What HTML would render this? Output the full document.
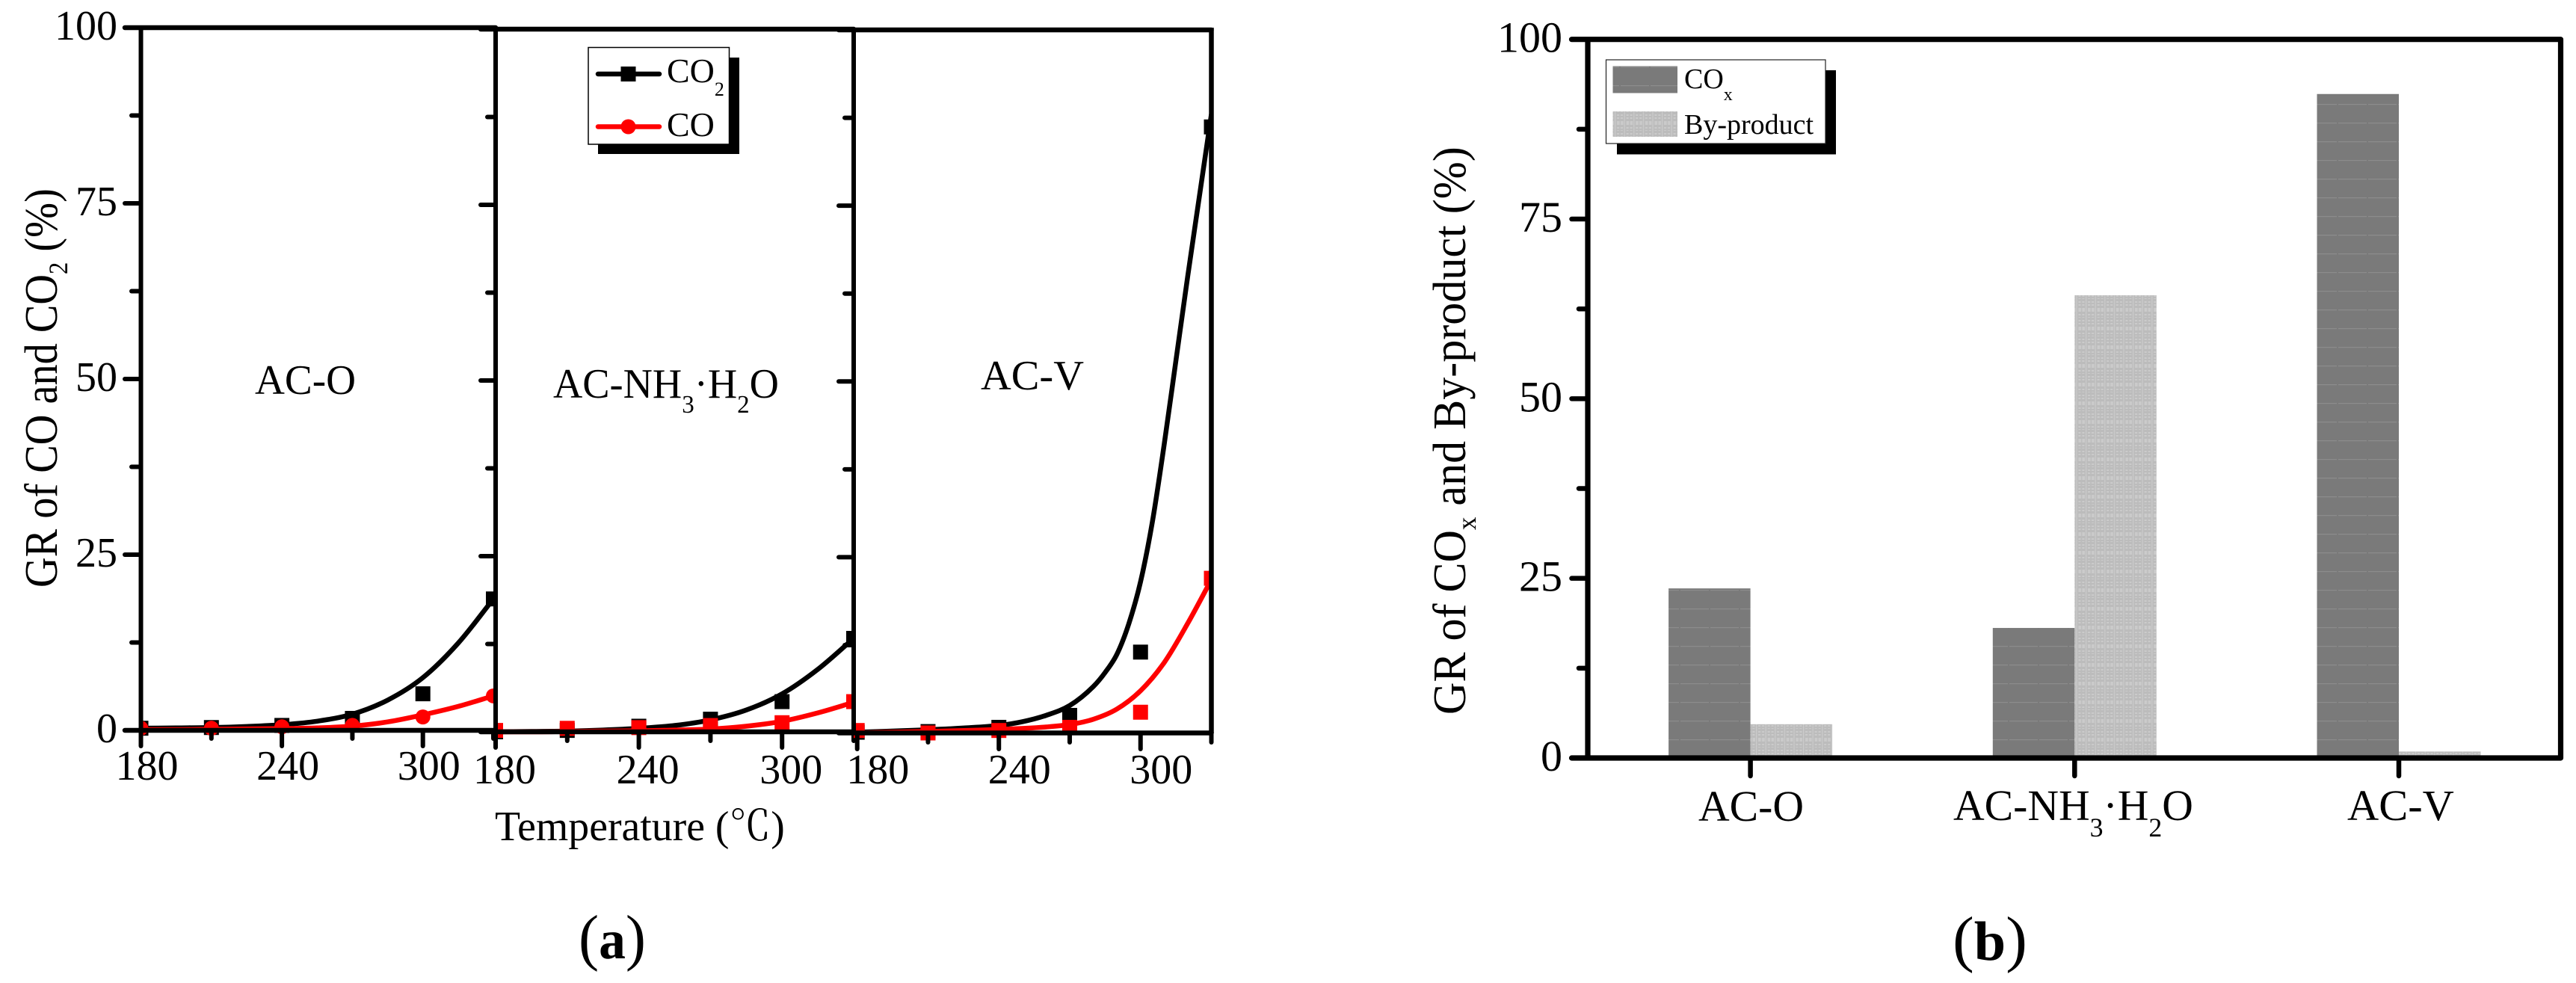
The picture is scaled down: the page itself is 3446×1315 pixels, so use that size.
<!DOCTYPE html>
<html lang="en">
<head>
<meta charset="utf-8">
<title>GR of CO and CO2 by temperature and GR of COx and By-product</title>
<style>
html,body{margin:0;padding:0;background:#fff;}
svg{display:block;}
text{font-family:"Liberation Serif","Noto Serif CJK SC",serif;fill:#000;}
</style>
</head>
<body>
<svg id="figure" xmlns="http://www.w3.org/2000/svg" width="3446" height="1315" viewBox="0 0 3446 1315">
  <defs>
    <pattern id="dark-fill" patternUnits="userSpaceOnUse" x="3127" y="14" width="40" height="25">
      <rect width="40" height="25" fill="#7a7a7a"/>
      <rect x="1" y="0" width="38" height="1.2" fill="#8c8c8c"/>
    </pattern>
    <pattern id="light-fill" patternUnits="userSpaceOnUse" x="2790" y="0" width="12.6" height="25">
      <rect width="12.6" height="25" fill="#bcbcbc"/>
      <rect x="0" width="1.2" height="25" fill="#cbcbcb"/>
      <rect x="3" y="12" width="3.6" height="5" fill="#cbcbcb"/>
      <rect x="8" y="12" width="3.6" height="5" fill="#cbcbcb"/>
      <rect x="3" y="20" width="3" height="2" fill="#cbcbcb"/>
      <rect x="8" y="20" width="3" height="2" fill="#cbcbcb"/>
      <rect x="3" y="24" width="3" height="1" fill="#cbcbcb"/>
      <rect x="8" y="24" width="3" height="1" fill="#cbcbcb"/>
      <rect x="3" y="3" width="3" height="2" fill="#cbcbcb"/>
      <rect x="8" y="3" width="3" height="2" fill="#cbcbcb"/>
      <rect x="3" y="7" width="3" height="2" fill="#cbcbcb"/>
      <rect x="8" y="7" width="3" height="2" fill="#cbcbcb"/>
    </pattern>
    <clipPath id="clip-0"><rect x="188.5" y="0" width="474.5" height="1100"/></clipPath>
    <clipPath id="clip-1"><rect x="663" y="0" width="479" height="1100"/></clipPath>
    <clipPath id="clip-2"><rect x="1142" y="0" width="478.5" height="1100"/></clipPath>
  </defs>

  <g id="chart-a"></g>
  <g id="chart-b"></g>

  <!-- Chart (a) static text -->
  <text font-size="62" data-fit="534" data-x="76" data-y="786" data-rot="-90">GR of CO and CO<tspan font-size="36" dy="14">2</tspan><tspan dy="-14"> (%)</tspan></text>
  <text font-size="56" data-fit="388" data-x="662" data-y="1124">Temperature (℃)</text>
  <text font-size="56" data-fit="135" data-x="341" data-y="527">AC-O</text>
  <text font-size="56" data-fit="302" data-x="740" data-y="532">AC-NH<tspan font-size="34" dy="20">3</tspan><tspan dy="-20">·H</tspan><tspan font-size="34" dy="20">2</tspan><tspan dy="-20">O</tspan></text>
  <text font-size="56" data-fit="138" data-x="1312" data-y="521">AC-V</text>
  <text font-size="84" data-fit="90" data-x="774" data-y="1282">(<tspan font-weight="bold" font-size="74">a</tspan>)</text>

  <!-- Chart (a) legend -->
  <g>
    <rect x="800" y="77" width="189" height="129" fill="#000"/>
    <rect x="787" y="63.5" width="188.5" height="129.5" fill="#fff" stroke="#000" stroke-width="1.5"/>
    <g>
      <line x1="800" y1="99" x2="882" y2="99" stroke="#000" stroke-width="6.5" stroke-linecap="round"/>
      <rect x="830.5" y="89" width="20" height="20" fill="#000"/>
      <text font-size="46" x="892" y="110">CO<tspan font-size="26" dy="18">2</tspan></text>
    </g>
    <g>
      <line x1="800" y1="169.5" x2="882" y2="169.5" stroke="#f00" stroke-width="6.5" stroke-linecap="round"/>
      <circle cx="840.5" cy="169.5" r="10" fill="#f00"/>
      <text font-size="46" x="892" y="182">CO</text>
    </g>
  </g>

  <!-- Chart (b) static text -->
  <text font-size="62" data-fit="760" data-x="1960" data-y="956" data-rot="-90">GR of CO<tspan font-size="36" dy="14">x</tspan><tspan dy="-14"> and By-product (%)</tspan></text>
  <text font-size="84" data-fit="100" data-x="2612" data-y="1284">(<tspan font-weight="bold" font-size="74">b</tspan>)</text>

  <!-- Chart (b) legend -->
  <g>
    <rect x="2163" y="94" width="293" height="112.5" fill="#000"/>
    <rect x="2148.5" y="80" width="293.5" height="112" fill="#fff" stroke="#222" stroke-width="1.2"/>
    <g>
      <rect x="2157.5" y="88.5" width="86.5" height="36" fill="url(#dark-fill)"/>
      <text font-size="38" x="2253" y="118">CO<tspan font-size="24" dy="16">x</tspan></text>
    </g>
    <g>
      <rect x="2157.5" y="149" width="86.5" height="34" fill="url(#light-fill)"/>
      <text font-size="38" x="2253" y="179">By-product</text>
    </g>
  </g>
</svg>

<script>
// ---- Chart (a) data ----
const tempCategories = [180, 210, 240, 270, 300, 330];
const tempMinorTicks = [210, 270, 330];
const tempTickLabels = [180, 240, 300];
const percentTicksMajor = [0, 25, 50, 75, 100];
const percentTicksMinor = [12.5, 37.5, 62.5, 87.5];

const acoCo2Points = [0.3, 0.4, 0.7, 1.7, 5.2, 18.7];
const acoCoPoints = [0.3, 0.3, 0.5, 0.7, 1.9, 4.9];
const acnCo2Points = [0.0, 0.2, 0.8, 1.8, 4.3, 13.3];
const acnCoPoints = [0.2, 0.5, 0.6, 0.9, 1.3, 4.3];
const acvCo2Points = [0.1, 0.2, 0.8, 2.5, 11.5, 86.2];
const acvCoPoints = [0.35, 0.0, 0.35, 0.8, 2.95, 22.0];

const acoCo2CurveT = [180, 195, 210, 225, 240, 255, 270, 285, 300, 315, 330];
const acoCo2CurveV = [0.3, 0.35, 0.4, 0.55, 0.8, 1.3, 2.3, 4.3, 7.5, 12.4, 18.7];
const acoCoCurveT = [180, 195, 210, 225, 240, 255, 270, 285, 300, 315, 330];
const acoCoCurveV = [0.1, 0.1, 0.15, 0.2, 0.25, 0.35, 0.6, 1.2, 2.2, 3.4, 4.9];
const acnCo2CurveT = [180, 195, 210, 225, 240, 255, 270, 285, 300, 315, 330];
const acnCo2CurveV = [0.0, 0.05, 0.1, 0.25, 0.5, 0.9, 1.7, 3.1, 5.4, 8.9, 13.3];
const acnCoCurveT = [180, 195, 210, 225, 240, 255, 270, 285, 300, 315, 330];
const acnCoCurveV = [0.0, 0.0, 0.05, 0.1, 0.15, 0.25, 0.4, 0.8, 1.5, 2.7, 4.2];
const acvCo2CurveT = [180, 210, 225, 240, 250, 260, 270, 280, 285, 290, 295, 300, 305, 310, 315, 320, 325, 330];
const acvCo2CurveV = [0.1, 0.45, 0.7, 1.06, 1.6, 2.5, 3.9, 6.6, 8.6, 11.2, 15.5, 21.5, 30.0, 41.0, 53.0, 65.0, 76.5, 88.0];
const acvCoCurveT = [180, 240, 260, 270, 280, 290, 300, 310, 320, 330];
const acvCoCurveV = [0.0, 0.5, 0.85, 1.2, 1.95, 3.4, 6.0, 10.0, 15.6, 21.8];

// ---- Chart (b) data ----
const barCategories = ['AC-O', 'AC-NH3H2O', 'AC-V'];
const coxValues = [23.6, 18.1, 92.4];
const byProductValues = [4.7, 64.4, 0.9];
const barTicksMajor = [0, 25, 50, 75, 100];
const barTicksMinor = [12.5, 37.5, 62.5, 87.5];

const NS = 'http://www.w3.org/2000/svg';
function mk(parent, tag, attrs) {
  const el = document.createElementNS(NS, tag);
  for (const k in attrs) el.setAttribute(k, attrs[k]);
  parent.appendChild(el);
  return el;
}
function monotonePath(xs, ys) {
  const n = xs.length, d = [], m = [];
  for (let i = 0; i < n - 1; i++) d.push((ys[i + 1] - ys[i]) / (xs[i + 1] - xs[i]));
  m[0] = d[0]; m[n - 1] = d[n - 2];
  for (let i = 1; i < n - 1; i++) {
    m[i] = d[i - 1] * d[i] <= 0 ? 0 : (d[i - 1] + d[i]) / 2;
  }
  let p = 'M' + xs[0].toFixed(2) + ' ' + ys[0].toFixed(2);
  for (let i = 0; i < n - 1; i++) {
    const h = (xs[i + 1] - xs[i]) / 3;
    p += 'C' + (xs[i] + h).toFixed(2) + ' ' + (ys[i] + m[i] * h).toFixed(2) + ' ' +
      (xs[i + 1] - h).toFixed(2) + ' ' + (ys[i + 1] - m[i + 1] * h).toFixed(2) + ' ' +
      xs[i + 1].toFixed(2) + ' ' + ys[i + 1].toFixed(2);
  }
  return p;
}

const panels = [
  { id: 'ac-o', axisX: 188.5, x180: 188.5, x330: 660, y0: 977, y100: 37, right: 663, leftMajor: 167, leftMinor: 176, labelDx: 8, labelY: 1043, tickBottom: 998, minorBottom: 988,
    co2Pts: acoCo2Points, coPts: acoCoPoints, co2T: acoCo2CurveT, co2V: acoCo2CurveV, coT: acoCoCurveT, coV: acoCoCurveV, circle: true, showY: true },
  { id: 'ac-nh3-h2o', axisX: 663, x180: 663, x330: 1142, y0: 979, y100: 39, right: 1142, leftMajor: 643, leftMinor: 652, labelDx: 12, labelY: 1048, tickBottom: 1000, minorBottom: 991,
    co2Pts: acnCo2Points, coPts: acnCoPoints, co2T: acnCo2CurveT, co2V: acnCo2CurveV, coT: acnCoCurveT, coV: acnCoCurveV, circle: false, showY: false },
  { id: 'ac-v', axisX: 1142, x180: 1146.7, x330: 1620.5, y0: 980.5, y100: 40, right: 1620.5, leftMajor: 1122, leftMinor: 1130, labelDx: 27.5, labelY: 1048, tickBottom: 1002, minorBottom: 993,
    co2Pts: acvCo2Points, coPts: acvCoPoints, co2T: acvCo2CurveT, co2V: acvCo2CurveV, coT: acvCoCurveT, coV: acvCoCurveV, circle: false, showY: false }
];

const chartA = document.getElementById('chart-a');
panels.forEach(function (p, pi) {
  const xScale = function (t) { return p.x180 + (t - 180) * (p.x330 - p.x180) / 150; };
  const yScale = function (v) { return p.y0 - v * (p.y0 - p.y100) / 100; };

  const g = mk(chartA, 'g', {});
  
  

  const series = mk(g, 'g', { 'clip-path': 'url(#clip-' + pi + ')' });
  
  

  const co2Line = mk(series, 'path', { d: monotonePath(p.co2T.map(xScale), p.co2V.map(yScale)), fill: 'none', stroke: '#000', 'stroke-width': 6.5 });
  
  

  tempCategories.forEach(function (t, i) {
    const m = mk(series, 'rect', { x: xScale(t) - 10, y: yScale(p.co2Pts[i]) - 10, width: 20, height: 20, fill: '#000' });
    
    
  });

  const coLine = mk(series, 'path', { d: monotonePath(p.coT.map(xScale), p.coV.map(yScale)), fill: 'none', stroke: '#f00', 'stroke-width': 6.5 });
  
  

  tempCategories.forEach(function (t, i) {
    const m = p.circle
      ? mk(series, 'circle', { cx: xScale(t), cy: yScale(p.coPts[i]), r: 10, fill: '#f00' })
      : mk(series, 'rect', { x: xScale(t) - 10, y: yScale(p.coPts[i]) - 10, width: 20, height: 20, fill: '#f00' });
    
    
  });

  // frame
  const frame = mk(g, 'path', {
    d: 'M' + p.leftMajor + ' ' + p.y100 + 'H' + p.right + 'M' + p.leftMajor + ' ' + p.y0 + 'H' + p.right,
    stroke: '#000', 'stroke-width': 6.5, 'stroke-linecap': 'round', fill: 'none'
  });
  
  
  const yAxis = mk(g, 'line', { x1: p.axisX, y1: p.y100, x2: p.axisX, y2: p.y0, stroke: '#000', 'stroke-width': 6 });
  
  

  // y ticks
  percentTicksMajor.forEach(function (v) {
    const t = mk(g, 'line', { x1: p.leftMajor, y1: yScale(v), x2: p.axisX, y2: yScale(v), stroke: '#000', 'stroke-width': 6, 'stroke-linecap': 'round' });
    
    
    if (p.showY) {
      const l = mk(g, 'text', { x: 157, y: yScale(v) + 16, 'font-size': 56, 'text-anchor': 'end' });
      l.textContent = String(v);
      
      
    }
  });
  percentTicksMinor.forEach(function (v) {
    const t = mk(g, 'line', { x1: p.leftMinor, y1: yScale(v), x2: p.axisX, y2: yScale(v), stroke: '#000', 'stroke-width': 6, 'stroke-linecap': 'round' });
    
    
  });

  // x ticks
  tempTickLabels.forEach(function (v) {
    const t = mk(g, 'line', { x1: xScale(v), y1: p.y0, x2: xScale(v), y2: p.tickBottom, stroke: '#000', 'stroke-width': 6, 'stroke-linecap': 'round' });
    
    
    const l = mk(g, 'text', { x: xScale(v) + p.labelDx, y: p.labelY, 'font-size': 56, 'text-anchor': 'middle' });
    l.textContent = String(v);
    
    
  });
  tempMinorTicks.forEach(function (v) {
    const t = mk(g, 'line', { x1: xScale(v), y1: p.y0, x2: xScale(v), y2: p.minorBottom, stroke: '#000', 'stroke-width': 6, 'stroke-linecap': 'round' });
    
    
  });
});

// right edge of last panel
const lastEdge = mk(chartA, 'line', { x1: 1620.5, y1: 37, x2: 1620.5, y2: 981, stroke: '#000', 'stroke-width': 6.5 });



// ---- Chart (b) ----
const chartB = document.getElementById('chart-b');
const bLeft = 2124, bRight = 3425.5, bY0 = 1014, bY100 = 52.7;
const barY = function (v) { return bY0 - v * (bY0 - bY100) / 100; };
const catX = function (i) { return 2341.6 + i * 433.7; };
const barW = 109.5;

barCategories.forEach(function (c, i) {
  const d = mk(chartB, 'rect', { x: catX(i) - barW, y: barY(coxValues[i]), width: barW, height: bY0 - barY(coxValues[i]), fill: 'url(#dark-fill)' });
  
  
  const b = mk(chartB, 'rect', { x: catX(i), y: barY(byProductValues[i]), width: barW, height: bY0 - barY(byProductValues[i]), fill: 'url(#light-fill)' });
  
  
  const t = mk(chartB, 'line', { x1: catX(i), y1: bY0, x2: catX(i), y2: 1038, stroke: '#000', 'stroke-width': 6.5, 'stroke-linecap': 'round' });
  
  
});

const bFrame = mk(chartB, 'path', {
  d: 'M2102.5 ' + bY100 + 'H' + bRight + 'V' + bY0 + 'H2102.5M' + bLeft + ' ' + bY100 + 'V' + bY0,
  fill: 'none', stroke: '#000', 'stroke-width': 7.2, 'stroke-linejoin': 'round', 'stroke-linecap': 'round'
});



barTicksMajor.forEach(function (v) {
  const t = mk(chartB, 'line', { x1: 2102.5, y1: barY(v), x2: bLeft, y2: barY(v), stroke: '#000', 'stroke-width': 6.5, 'stroke-linecap': 'round' });
  
  
  const l = mk(chartB, 'text', { x: 2090, y: barY(v) + 17, 'font-size': 58, 'text-anchor': 'end' });
  l.textContent = String(v);
  
  
});
barTicksMinor.forEach(function (v) {
  const t = mk(chartB, 'line', { x1: 2112, y1: barY(v), x2: bLeft, y2: barY(v), stroke: '#000', 'stroke-width': 6.5, 'stroke-linecap': 'round' });
  
  
});

// category labels (x position / fit widths are layout, text stays real)
const catAco = mk(chartB, 'text', { 'font-size': 58, 'data-fit': 141, 'data-x': 2272, 'data-y': 1098 });
catAco.textContent = 'AC-O';



const catAcn = mk(chartB, 'text', { 'font-size': 58, 'data-fit': 321, 'data-x': 2613, 'data-y': 1097 });
catAcn.innerHTML = 'AC-NH<tspan font-size="36" dy="22">3</tspan><tspan dy="-22">·H</tspan><tspan font-size="36" dy="22">2</tspan><tspan dy="-22">O</tspan>';



const catAcv = mk(chartB, 'text', { 'font-size': 58, 'data-fit': 143, 'data-x': 3140, 'data-y': 1097 });
catAcv.textContent = 'AC-V';



// horizontally fit long labels to their measured width
document.querySelectorAll('text[data-fit]').forEach(function (t) {
  const w = t.getBBox().width;
  const sx = parseFloat(t.getAttribute('data-fit')) / w;
  const x = t.getAttribute('data-x'), y = t.getAttribute('data-y');
  const rot = t.getAttribute('data-rot');
  t.setAttribute('transform', 'translate(' + x + ' ' + y + ')' + (rot ? ' rotate(' + rot + ')' : '') + ' scale(' + sx.toFixed(4) + ' 1)');
});
</script>
</body>
</html>
